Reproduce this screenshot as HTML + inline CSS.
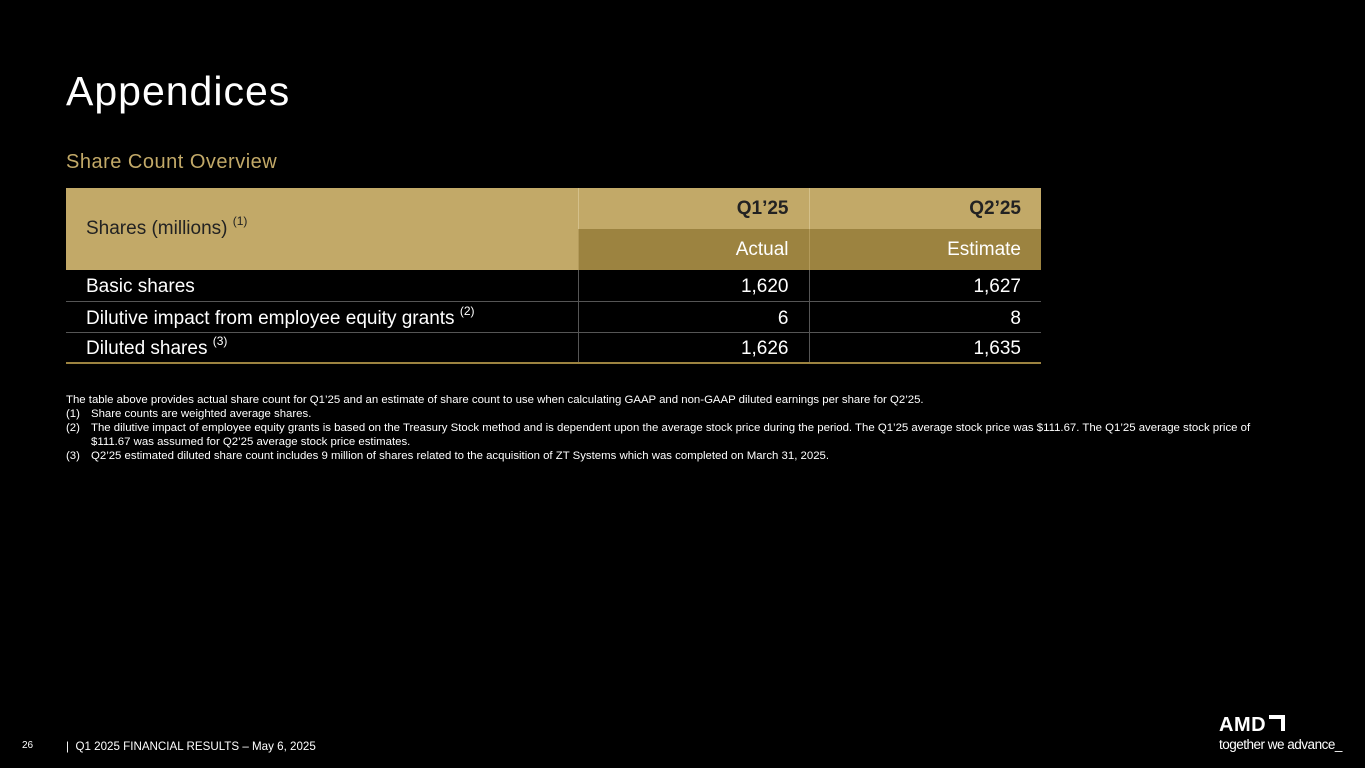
<!DOCTYPE html>
<html><head><meta charset="utf-8"><style>
body{margin:0;width:1365px;height:768px;background:#000;overflow:hidden;position:relative;font-family:"Liberation Sans",sans-serif;color:#fff}
.a{position:absolute}
table{position:absolute;left:66px;top:188px;width:975px;border-collapse:collapse;font-size:19px}
td{padding:0 20px;box-sizing:border-box;line-height:20px}
.h1 td{height:41px}
.h2 td{height:41px}
.r td{height:31px;border-bottom:1px solid #555;padding-top:4px}
.r td+td{border-left:1px solid #555;text-align:right}
.r.last td{border-bottom:2px solid #9c8340}
sup{font-size:12px;vertical-align:top;position:relative;top:-4px;line-height:12px}
.fn{font-size:11.4px;line-height:14px;color:#fff}
</style></head><body>
<div class="a" style="left:66px;top:68px;font-size:41px;letter-spacing:1px">Appendices</div>
<div class="a" style="left:66px;top:151px;font-size:20px;color:#c2a968;letter-spacing:0.5px">Share Count Overview</div>
<table>
<tr class="h1"><td rowspan="2" style="background:#c2a968;color:#222;width:512px">Shares (millions) <sup>(1)</sup></td>
<td style="background:#c2a968;color:#222;text-align:right;font-weight:bold;width:231px;border-left:1px solid #d4c08a">Q1’25</td>
<td style="background:#c2a968;color:#222;text-align:right;font-weight:bold;border-left:1px solid #d4c08a">Q2’25</td></tr>
<tr class="h2"><td style="background:#9c8340;text-align:right;border-left:1px solid #b39a5a">Actual</td>
<td style="background:#9c8340;text-align:right;border-left:1px solid #b39a5a">Estimate</td></tr>
<tr class="r"><td>Basic shares</td><td>1,620</td><td>1,627</td></tr>
<tr class="r"><td>Dilutive impact from employee equity grants <sup>(2)</sup></td><td>6</td><td>8</td></tr>
<tr class="r last"><td>Diluted shares <sup>(3)</sup></td><td>1,626</td><td>1,635</td></tr>
</table>
<div class="a fn" style="left:66px;top:393px;width:1200px">
<div>The table above provides actual share count for Q1’25 and an estimate of share count to use when calculating GAAP and non-GAAP diluted earnings per share for Q2’25.</div>
<div style="padding-left:25px;position:relative"><span style="position:absolute;left:0">(1)</span>Share counts are weighted average shares.</div>
<div style="padding-left:25px;position:relative"><span style="position:absolute;left:0">(2)</span>The dilutive impact of employee equity grants is based on the Treasury Stock method and is dependent upon the average stock price during the period. The Q1’25 average stock price was $111.67. The Q1’25 average stock price of $111.67 was assumed for Q2’25 average stock price estimates.</div>
<div style="padding-left:25px;position:relative"><span style="position:absolute;left:0">(3)</span>Q2’25 estimated diluted share count includes 9 million of shares related to the acquisition of ZT Systems which was completed on March 31, 2025.</div>
</div>
<div class="a" style="left:22px;top:740px;font-size:10px">26</div>
<div class="a" style="left:66px;top:740px;font-size:11.6px">|&nbsp;&nbsp;Q1 2025 FINANCIAL RESULTS – May 6, 2025</div>
<div class="a" style="left:1219px;top:714px;font-size:20px;font-weight:bold;letter-spacing:0.5px">AMD<span style="display:inline-block;width:16px;height:16px;margin-left:3px;border-top:4px solid #fff;border-right:4px solid #fff;box-sizing:border-box"></span></div>
<div class="a" style="left:1219px;top:737px;font-size:13.5px;letter-spacing:-0.5px">together we advance_</div>
</body></html>
